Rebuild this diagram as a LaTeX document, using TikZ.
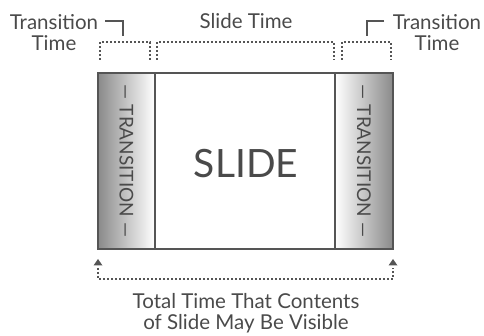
\documentclass[tikz,border=0pt]{standalone}
\usepackage{fontspec}
\setmainfont{Lato}
\definecolor{txtgray}{HTML}{4A4A4A}
\definecolor{linegray}{HTML}{555555}
\definecolor{shadegray}{HTML}{8A8A8A}
\begin{document}
\begin{tikzpicture}[x=1pt,y=-1pt,
  lbl/.style={text=txtgray, font=\fontsize{20.5}{21}\selectfont, align=center, inner sep=0pt},
  box/.style={draw=linegray, line width=1.4pt, inner sep=0pt, outer sep=0pt, anchor=north west},
  dotline/.style={draw=linegray, line width=1.8pt, dash pattern=on 1.8pt off 2.2pt},
  hook/.style={draw=linegray, line width=1.3pt},
  tip/.style={fill=linegray, draw=none}]
\useasboundingbox (0,0) rectangle (484,336);
% boxes
\node[box, left color=shadegray, right color=white, minimum width=57pt, minimum height=176pt] (lt) at (98,73) {};
\node[box, fill=white, minimum width=180pt, minimum height=176pt] (sl) at (155,73) {};
\node[box, left color=white, right color=shadegray, minimum width=58pt, minimum height=176pt] (rt) at (335,73) {};
\node[text=txtgray, font=\fontsize{19}{20}\selectfont, rotate=-90, inner sep=0pt] (ltx) at (lt.center) {— TRANSITION —};
\node[text=txtgray, font=\fontsize{19}{20}\selectfont, rotate=-90, inner sep=0pt] (rtx) at (rt.center) {— TRANSITION —};
\node[text=txtgray, font=\fontsize{39}{40}\selectfont, inner sep=0pt] (sltx) at (246,164) {SLIDE};
% top labels
\node[lbl] (tl) at (54,33) {Transition\\Time};
\node[lbl] (tr) at (437,33) {Transition\\Time};
\node[lbl] (st) at (246,21) {Slide Time};
% top brackets
\coordinate (a1) at (100,60); \coordinate (a2) at (100,42); \coordinate (a3) at (150,42); \coordinate (a4) at (150,60);
\draw[dotline] (a1) -- (a2) -- (a3) -- (a4);
\coordinate (b1) at (157,60); \coordinate (b2) at (157,42); \coordinate (b3) at (334,42); \coordinate (b4) at (334,60);
\draw[dotline] (b1) -- (b2) -- (b3) -- (b4);
\coordinate (c1) at (342,60); \coordinate (c2) at (342,42); \coordinate (c3) at (391,42); \coordinate (c4) at (391,60);
\draw[dotline] (c1) -- (c2) -- (c3) -- (c4);
% hooks
\coordinate (h1) at (105,21); \coordinate (h2) at (123,21); \coordinate (h3) at (123,36);
\draw[hook] (h1) -- (h2) -- (h3);
\coordinate (k1) at (384,21); \coordinate (k2) at (367,21); \coordinate (k3) at (367,36);
\draw[hook] (k1) -- (k2) -- (k3);
% bottom bracket
\coordinate (d1) at (98,268); \coordinate (d2) at (98,279); \coordinate (d3) at (393,279); \coordinate (d4) at (393,268);
\draw[dotline] (d1) -- (d2) -- (d3) -- (d4);
\fill[tip] (98,259) -- (102.5,265.5) -- (93.5,265.5) -- cycle;
\fill[tip] (393,259) -- (397.5,265.5) -- (388.5,265.5) -- cycle;
\node[lbl] (bt) at (246,313) {Total Time That Contents\\of Slide May Be Visible};
\end{tikzpicture}
\end{document}
